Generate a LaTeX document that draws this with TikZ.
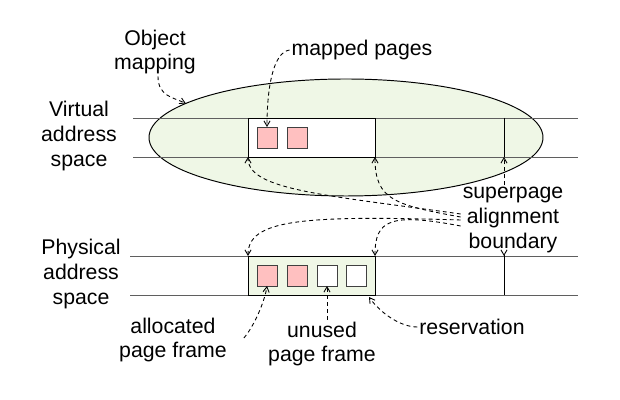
\documentclass[tikz,border=0pt]{standalone}
\usepackage{fontspec}
\setmainfont{Liberation Sans}
\usetikzlibrary{arrows.meta,shapes.geometric}
\definecolor{mintcream}{RGB}{239, 247, 230}
\definecolor{salmonpink}{RGB}{255, 192, 192}
\definecolor{lanegray}{RGB}{95, 95, 95}

\begin{document}
\begin{tikzpicture}[
        font=\fontsize{12.1}{14.0}\selectfont,
        textlbl/.style={align=center, inner sep=1pt},
        lane/.style={lanegray, line width=0.55pt},
        rim/.style={black, line width=0.55pt},
        spanbox/.style={draw=black, line width=0.55pt, minimum width=2.54cm, minimum height=0.78cm, inner sep=0pt, outer sep=0pt},
        pagebox/.style={draw=black!75, line width=0.55pt, minimum width=0.40cm, minimum height=0.42cm, inner sep=0pt, outer sep=0pt},
        pointer/.style={dash pattern=on 2.2pt off 1.8pt, line width=0.5pt, -{Straight Barb[length=3pt,width=3.5pt]}}
    ]
            % Frame to fix the margins
            \useasboundingbox                                                 (0.00, 0.00) rectangle (12.40, 8.00);
            % Object mapping
            \node[ellipse, draw, line width=0.55pt, fill=mintcream, minimum width=7.88cm, minimum height=2.34cm,
                  inner sep=0pt, outer sep=0pt] (objmap)                      at ( 6.92, 5.25) {};
            % Virtual address space
            \draw[lane]                                                       ( 2.66, 5.64) -- (11.56, 5.64);
            \draw[lane]                                                       ( 2.66, 4.86) -- (11.56, 4.86);
            \node[spanbox, fill=white]      (vbox)                            at ( 6.23, 5.25) {};
            \node[pagebox, fill=salmonpink] (vp1)                             at ( 5.34, 5.25) {};
            \node[pagebox, fill=salmonpink] (vp2)                             at ( 5.94, 5.25) {};
            \draw[rim]                                                        (10.08, 5.64) -- (10.08, 4.86) coordinate (vbnd);
            % Physical address space
            \draw[lane]                                                       ( 2.60, 2.88) -- (11.56, 2.88);
            \draw[lane]                                                       ( 2.60, 2.10) -- (11.56, 2.10);
            \node[spanbox, fill=mintcream]  (pbox)                            at ( 6.23, 2.49) {};
            \node[pagebox, fill=salmonpink] (pp1)                             at ( 5.34, 2.49) {};
            \node[pagebox, fill=salmonpink] (pp2)                             at ( 5.94, 2.49) {};
            \node[pagebox, fill=white]      (pp3)                             at ( 6.54, 2.49) {};
            \node[pagebox, fill=white]      (pp4)                             at ( 7.12, 2.49) {};
            \draw[rim]                                                        (10.08, 2.10) -- (10.08, 2.88) coordinate (pbnd);
            % Labels
            \node[textlbl] (objlbl)                                           at ( 3.10, 6.96) {Object\\mapping};
            \node[textlbl] (mapped)                                           at ( 7.24, 7.00) {mapped pages};
            \node[textlbl] (virt)                                             at ( 1.58, 5.28) {Virtual\\address\\space};
            \node[textlbl] (phys)                                             at ( 1.62, 2.52) {Physical\\address\\space};
            \node[textlbl] (supr)                                             at (10.26, 3.60) {superpage\\alignment\\boundary};
            \node[textlbl] (alloc)                                            at ( 3.46, 1.20) {allocated\\page frame};
            \node[textlbl] (unused)                                           at ( 6.44, 1.12) {unused\\page frame};
            \node[textlbl] (resv)                                             at ( 9.44, 1.46) {reservation};
            % Pointers from the labels
            \draw[pointer] ([xshift=0.06cm]objlbl.south) .. controls +(0.00,-0.40) and +(-0.25, 0.12) .. (objmap.168);
            \draw[pointer] (mapped.west)  .. controls (5.45, 6.95) and (5.34, 6.20) .. (vp1.north);
            \draw[pointer] ([yshift= 0.12cm]supr.west) .. controls (6.50, 4.10) and (4.96, 4.20) .. (vbox.south west);
            \draw[pointer] ([yshift= 0.06cm]supr.west) .. controls (7.90, 3.90) and (7.50, 4.00) .. (vbox.south east);
            \draw[pointer] ([yshift= 0.00cm]supr.west) .. controls (6.00, 3.70) and (4.96, 3.60) .. (pbox.north west);
            \draw[pointer] ([yshift=-0.12cm]supr.west) .. controls (7.80, 3.75) and (7.50, 3.60) .. (pbox.north east);
            \draw[pointer] (supr.north -| vbnd) -- (vbnd);
            \draw[pointer] (supr.south -| pbnd) -- (pbnd);
            \draw[pointer] ([xshift=0.30cm,yshift=0.04cm]alloc.east) .. controls (5.10, 1.50) and (5.30, 2.00) .. (pp1.south);
            \draw[pointer] (unused.north -| pp3) -- (pp3.south);
            \draw[pointer] (resv.west)    .. controls (8.00, 1.46) and (7.60, 1.75) .. ([shift={(-0.12,-0.04)}]pbox.south east);
\end{tikzpicture}
\end{document}
